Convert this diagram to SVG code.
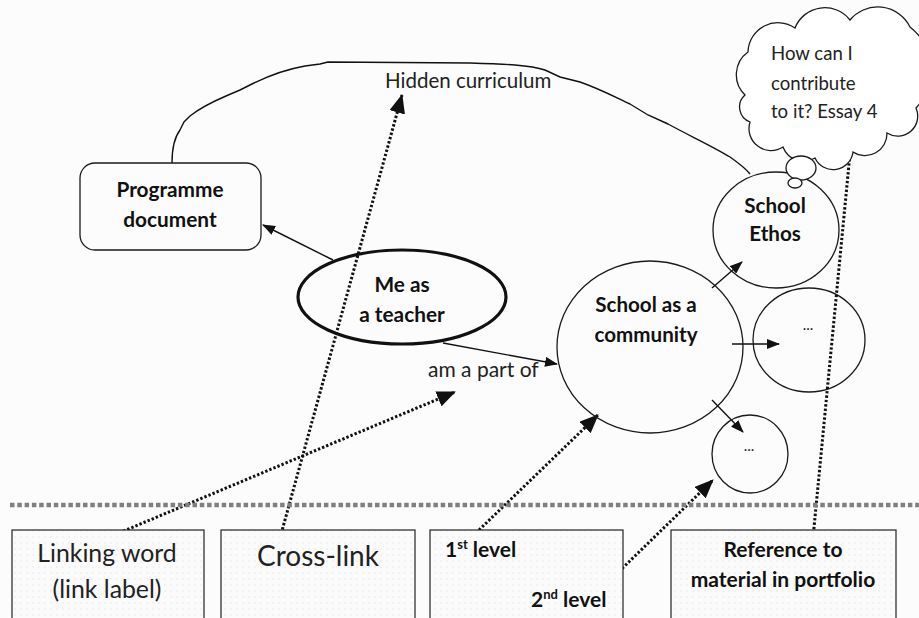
<svg xmlns="http://www.w3.org/2000/svg" width="919" height="618" viewBox="0 0 919 618">
<style>
.bg{fill:#fcfcfc}
.node{fill:none;stroke:#1a1a1a;stroke-width:1.3}
.thick{fill:none;stroke:#111;stroke-width:3.2}
.t{font-family:Lato,"Liberation Sans",sans-serif;fill:#222}
.b{font-family:Lato,"Liberation Sans",sans-serif;font-weight:bold;fill:#111}
.solid{stroke:#111;stroke-width:1.4;fill:none}
.dot{stroke:#111;stroke-width:3;stroke-dasharray:2.4 2;fill:none}
.sep{stroke:#808080;stroke-width:4.5;stroke-dasharray:4.5 2.8}
.legend{fill:url(#dots);stroke:#222;stroke-width:1.2}
</style>
<defs>
<pattern id="dots" width="6" height="6" patternUnits="userSpaceOnUse">
<rect width="6" height="6" fill="#fbfbfb"/>
<circle cx="3" cy="3" r="0.7" fill="#e2e2e2"/>
</pattern>
<marker id="ah" markerUnits="userSpaceOnUse" markerWidth="13" markerHeight="10" refX="12" refY="5" orient="auto"><path d="M0,0 L13,5 L0,10 z" fill="#111"/></marker>
<marker id="ahb" markerUnits="userSpaceOnUse" markerWidth="19" markerHeight="16" refX="18" refY="8" orient="auto"><path d="M0,0 L19,8 L0,16 z" fill="#111"/></marker>
</defs>
<rect class="bg" width="919" height="618"/>

<g id="connectors">
<path class="solid" d="M172,163 C172,148 174,138 180,130 L184,122 L190,116 C200,108 212,102 226,96 L240,90 L252,84 C268,76 288,69 305,66 L320,64 L328,62 L470,63 C505,64 530,65 545,70 L560,77 L580,82 C600,89 615,97 630,104 L648,115 L668,124 C690,136 712,146 730,157 C740,164 746,169 750,174"/>
<line class="solid" x1="333" y1="260" x2="263" y2="225" marker-end="url(#ah)"/>
<line class="solid" x1="443" y1="343" x2="557" y2="364" marker-end="url(#ah)"/>
<line class="solid" x1="712" y1="288" x2="742" y2="262" marker-end="url(#ah)"/>
<line class="solid" x1="732" y1="344" x2="779" y2="344" marker-end="url(#ah)"/>
<line class="solid" x1="712" y1="400" x2="743" y2="432" marker-end="url(#ah)"/>
<line class="dot" x1="107" y1="538" x2="455" y2="392" marker-end="url(#ahb)"/>
<line class="dot" x1="280" y1="538" x2="402" y2="95" marker-end="url(#ahb)"/>
<line class="dot" x1="479" y1="530" x2="598" y2="415" marker-end="url(#ahb)"/>
<line class="dot" x1="600" y1="590" x2="713" y2="480" marker-end="url(#ahb)"/>
<line class="dot" x1="813" y1="538" x2="852" y2="133" marker-end="url(#ahb)"/>
<text class="t" x="385" y="88" font-size="20.5">Hidden curriculum</text>
<text class="t" x="428" y="377" font-size="21">am a part of</text>
</g>

<line class="sep" x1="10" y1="505" x2="919" y2="505"/>

<g id="programme">
<rect class="node" x="80" y="163" width="181" height="87" rx="15"/>
<text class="b" x="170" y="197" font-size="20.8" text-anchor="middle">Programme</text>
<text class="b" x="170" y="227" font-size="20.8" text-anchor="middle">document</text>
</g>

<g id="me">
<ellipse class="thick" cx="402" cy="297" rx="104" ry="47"/>
<text class="b" x="402" y="292" font-size="20.8" text-anchor="middle">Me as</text>
<text class="b" x="402" y="322" font-size="20.8" text-anchor="middle">a teacher</text>
</g>

<g id="community">
<ellipse class="node" cx="650" cy="347" rx="93" ry="86"/>
<text class="b" x="646" y="312" font-size="20.6" text-anchor="middle">School as a</text>
<text class="b" x="646" y="342" font-size="20.6" text-anchor="middle">community</text>
</g>

<g id="ethos">
<ellipse class="node" cx="776" cy="230" rx="63" ry="58"/>
<text class="b" x="775" y="213" font-size="20.6" text-anchor="middle">School</text>
<text class="b" x="775" y="241" font-size="20.6" text-anchor="middle">Ethos</text>
</g>

<g id="more1">
<ellipse class="node" cx="809" cy="340" rx="56" ry="52"/>
<text class="t" x="808" y="330" font-size="15" text-anchor="middle">...</text>
</g>

<g id="more2">
<ellipse class="node" cx="750" cy="454" rx="38" ry="39"/>
<text class="t" x="749" y="451" font-size="15" text-anchor="middle">...</text>
</g>

<g id="thought">
<path d="M748,52 A30,30 0 0 1 795,28 A32,32 0 0 1 850,20 A36,36 0 0 1 910,27 A55,55 0 0 1 916,108 A20,20 0 0 1 887,133 A22,22 0 0 1 853,152 A20,20 0 0 1 815,158 A22,22 0 0 1 783,147 A22,22 0 0 1 750,122 A16,16 0 0 1 745,95 A28,28 0 0 1 748,52 Z" fill="#fff" stroke="#1a1a1a" stroke-width="1.3"/>
<ellipse cx="801" cy="168" rx="15" ry="12" fill="#fff" stroke="#1a1a1a" stroke-width="1.3"/>
<ellipse cx="795" cy="183" rx="7" ry="5" fill="#fff" stroke="#1a1a1a" stroke-width="1.3"/>
<text class="t" x="771" y="60" font-size="18.6">How can I</text>
<text class="t" x="771" y="90" font-size="18.6">contribute</text>
<text class="t" x="771" y="118" font-size="18.6">to it? Essay 4</text>
</g>

<g id="legend-linking">
<rect class="legend" x="12" y="530" width="192" height="100"/>
<text class="t" x="107" y="562" font-size="24.8" text-anchor="middle">Linking word</text>
<text class="t" x="107" y="598" font-size="24.8" text-anchor="middle">(link label)</text>
</g>
<g id="legend-cross">
<rect class="legend" x="221" y="530" width="194" height="100"/>
<text class="t" x="318" y="566" font-size="28" text-anchor="middle">Cross-link</text>
</g>
<g id="legend-levels">
<rect class="legend" x="430" y="530" width="193" height="100"/>
<text class="b" x="445" y="557" font-size="21">1<tspan font-size="13" dy="-8">st</tspan><tspan dy="8"> level</tspan></text>
<text class="b" x="531" y="607" font-size="21">2<tspan font-size="13" dy="-8">nd</tspan><tspan dy="8"> level</tspan></text>
</g>
<g id="legend-reference">
<rect class="legend" x="671" y="530" width="225" height="100"/>
<text class="b" x="783" y="557" font-size="21" text-anchor="middle">Reference to</text>
<text class="b" x="783" y="587" font-size="21" text-anchor="middle">material in portfolio</text>
</g>
</svg>
